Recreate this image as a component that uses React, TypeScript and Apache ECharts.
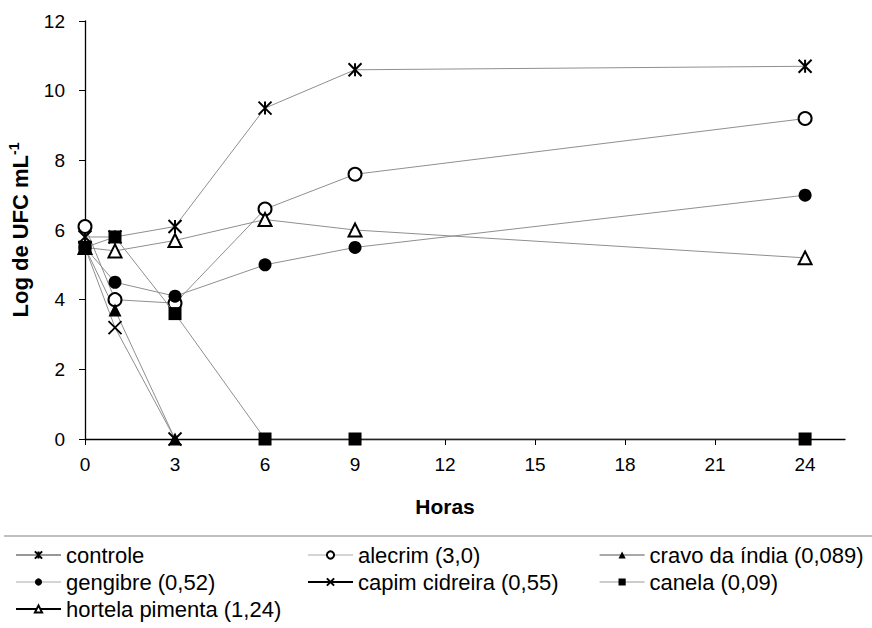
import React, { useEffect, useRef } from "react";
import * as echarts from "echarts";

const hours = [0, 1, 3, 6, 9, 24];
const xTicks = [0, 3, 6, 9, 12, 15, 18, 21, 24];
const controle = [5.8, 5.8, 6.1, 9.5, 10.6, 10.7];
const alecrim = [6.1, 4.0, 3.9, 6.6, 7.6, 9.2];
const cravo = [5.5, 3.7, 0, null, null, null];
const gengibre = [5.5, 4.5, 4.1, 5.0, 5.5, 7.0];
const capim = [5.5, 3.2, 0, null, null, null];
const canela = [5.5, 5.8, 3.6, 0, 0, 0];
const hortela = [5.5, 5.4, 5.7, 6.3, 6.0, 5.2];

const names = [
  "controle",
  "alecrim (3,0)",
  "cravo da índia (0,089)",
  "gengibre (0,52)",
  "capim cidreira (0,55)",
  "canela (0,09)",
  "hortela pimenta (1,24)",
];

const FONT = "'Liberation Sans', Arial, sans-serif";

const pair = (vals: (number | null)[]) =>
  hours.map((h, i) => [h, vals[i]]);

export default function App() {
  const ref = useRef<HTMLDivElement>(null);
  useEffect(() => {
    if (!ref.current) return;
    const chart = echarts.init(ref.current, undefined, { renderer: "svg" });
    const lineStyle = { color: "#8f8f8f", width: 1 };
    const strokeSym = { color: "transparent", borderColor: "#000", borderWidth: 2 };
    const mk = (name: string, vals: (number | null)[], symbol: string, size: number, itemStyle: any, z: number) => ({
      name,
      type: "line",
      data: pair(vals),
      symbol,
      symbolSize: size,
      showAllSymbol: true,
      connectNulls: false,
      lineStyle,
      itemStyle,
      z,
      emphasis: { disabled: true },
    });
    const series = [
      mk(names[0], controle, "path://M0,0L10,10M10,0L0,10M5,0L5,10", 13, strokeSym, 3),
      mk(names[1], alecrim, "circle", 13, { color: "#fff", borderColor: "#000", borderWidth: 2 }, 3),
      mk(names[2], cravo, "triangle", 13, { color: "#000", borderColor: "#000", borderWidth: 0 }, 3),
      mk(names[3], gengibre, "circle", 13, { color: "#000", borderColor: "#000", borderWidth: 0 }, 3),
      mk(names[4], capim, "path://M0,0L10,10M10,0L0,10", 13, { color: "transparent", borderColor: "#000", borderWidth: 1.8 }, 3),
      mk(names[5], canela, "rect", 13, { color: "#000", borderColor: "#000", borderWidth: 0 }, 4),
      mk(names[6], hortela, "triangle", 13, { color: "#fff", borderColor: "#000", borderWidth: 2 }, 3),
    ];
    const legendLine: Record<string, any> = {
      [names[0]]: { color: "#333", width: 1.2 },
      [names[1]]: { color: "#aaa", width: 1 },
      [names[2]]: { color: "#555", width: 1.2 },
      [names[3]]: { color: "#aaa", width: 1 },
      [names[4]]: { color: "#000", width: 2 },
      [names[5]]: { color: "#999", width: 1 },
      [names[6]]: { color: "#000", width: 2 },
    };
    const items = (list: string[]) => list.map((n) => ({ name: n, lineStyle: legendLine[n] }));
    const legendBase = {
      orient: "vertical",
      top: 544,
      height: 90,
      padding: 0,
      itemWidth: 45,
      itemHeight: 9,
      itemGap: 5,
      textStyle: { fontSize: 22, color: "#000", fontFamily: FONT },
      selectedMode: false,
    };
    chart.setOption({
      animation: false,
      backgroundColor: "#fff",
      textStyle: { fontFamily: FONT },
      grid: { left: 85, right: 27, top: 21, bottom: 189, outerBoundsMode: "none" },
      xAxis: {
        type: "value",
        min: 0,
        max: 25.33,
        name: "Horas",
        nameLocation: "middle",
        nameGap: 57,
        nameTextStyle: { fontSize: 21, fontWeight: "bold", color: "#000", fontFamily: FONT, padding: [0, 40, 0, 0] },
        axisLine: { onZero: false, lineStyle: { color: "#000", width: 1.3 } },
        axisTick: { show: true, length: 6, customValues: xTicks, lineStyle: { color: "#000" } },
        axisLabel: { customValues: xTicks, fontSize: 19, color: "#000", margin: 16, fontFamily: FONT },
        splitLine: { show: false },
      },
      yAxis: {
        type: "value",
        min: 0,
        max: 12,
        interval: 2,
        name: "{b|Log de UFC mL}{s|-1}",
        nameLocation: "middle",
        nameGap: 52,
        nameTextStyle: {
          color: "#000",
          rich: {
            b: { fontSize: 22, fontWeight: "bold", fontFamily: FONT, color: "#000", lineHeight: 26 },
            s: { fontSize: 14, fontWeight: "bold", fontFamily: FONT, color: "#000", verticalAlign: "top", lineHeight: 15 },
          },
        },
        axisLine: { show: true, lineStyle: { color: "#000", width: 1.3 } },
        axisTick: { show: true, length: 6, lineStyle: { color: "#000" } },
        axisLabel: { fontSize: 19, color: "#000", margin: 20, fontFamily: FONT },
        splitLine: { show: false },
      },
      legend: [
        { ...legendBase, left: 15, data: items([names[0], names[3], names[6]]) },
        { ...legendBase, left: 307, data: items([names[1], names[4]]) },
        { ...legendBase, left: 599, data: items([names[2], names[5]]) },
      ],
      graphic: [
        { type: "line", shape: { x1: 4, y1: 536, x2: 872, y2: 536 }, style: { stroke: "#aaa", lineWidth: 1.5 } },
      ],
      series,
    });
    return () => chart.dispose();
  }, []);
  return <div ref={ref} style={{ position: "absolute", left: 0, top: 0, width: 872, height: 628 }} />;
}
